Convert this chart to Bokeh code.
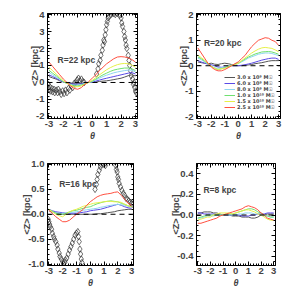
from bokeh.plotting import figure
from bokeh.layouts import column, row
from bokeh.models import (FixedTicker, PrintfTickFormatter, LinearAxis, Range1d,
                          Label, Legend, LegendItem, Span, CustomLabelingPolicy)
from bokeh.embed import file_html
from bokeh.resources import INLINE

THETA = [-3.0, -2.75, -2.5, -2.25, -2.0, -1.75, -1.5, -1.25, -1.0, -0.75, -0.5, -0.25,
         0.0, 0.25, 0.5, 0.75, 1.0, 1.25, 1.5, 1.75, 2.0, 2.25, 2.5, 2.75, 3.0]

MASS_LABELS = ["3.0 x 10⁹ M☉", "6.0 x 10⁹ M☉", "8.0 x 10⁹ M☉",
               "1.0 x 10¹⁰ M☉", "1.5 x 10¹⁰ M☉", "2.5 x 10¹⁰ M☉"]
COLORS = ["#555555", "#5a4ae6", "#8fd6f0", "#6fe06f", "#e6f04a", "#ff5040"]

# R = 22 kpc
R22_GRAY = [0.35, 0.27, 0.2, 0.1, 0.03, -0.03, -0.06, -0.08, -0.08, -0.06, -0.03, 0.0, 0.0, 0.03, 0.06, 0.08, 0.1, 0.13, 0.17, 0.21, 0.25, 0.32, 0.4, 0.45, 0.38]
R22_BLUE = [0.45, 0.35, 0.25, 0.13, 0.03, -0.03, -0.08, -0.1, -0.1, -0.08, -0.04, 0.0, 0.02, 0.08, 0.14, 0.2, 0.25, 0.3, 0.35, 0.4, 0.45, 0.5, 0.55, 0.58, 0.5]
R22_CYAN = [0.6, 0.45, 0.32, 0.18, 0.05, -0.05, -0.12, -0.15, -0.15, -0.12, -0.05, 0.0, 0.05, 0.15, 0.25, 0.35, 0.43, 0.5, 0.57, 0.62, 0.66, 0.7, 0.73, 0.72, 0.62]
R22_GREEN = [0.72, 0.55, 0.4, 0.22, 0.05, -0.05, -0.15, -0.2, -0.2, -0.15, -0.08, 0.0, 0.08, 0.2, 0.33, 0.45, 0.55, 0.65, 0.73, 0.78, 0.82, 0.85, 0.85, 0.8, 0.7]
R22_YELLOW = [0.9, 0.7, 0.5, 0.3, 0.1, -0.05, -0.15, -0.25, -0.25, -0.2, -0.1, 0.0, 0.12, 0.28, 0.45, 0.6, 0.75, 0.87, 0.97, 1.05, 1.1, 1.12, 1.1, 1.02, 0.9]
R22_RED = [1.2, 0.95, 0.7, 0.45, 0.2, 0.0, -0.2, -0.35, -0.4, -0.3, -0.1, 0.05, 0.25, 0.45, 0.7, 0.9, 1.1, 1.25, 1.4, 1.5, 1.52, 1.5, 1.45, 1.35, 1.2]
R22_OBS_X = [-3.05, -3.0, -2.95, -2.9, -2.8, -2.75, -2.65, -2.6, -2.5, -2.4, -2.35, -2.25, -2.15, -2.05, -1.95,
             -1.85, -1.75, -1.65, -1.55, -1.45, -1.35, -1.25, -1.15, -1.05, -0.95, -0.85, -0.75, -0.65, -0.55,
             0.3, 0.4, 0.45, 0.55, 0.6, 0.7, 0.75, 0.8, 0.85, 0.9, 0.95, 1.0, 1.05, 1.1, 1.2, 1.3, 1.45, 1.6,
             1.75, 1.9, 2.0, 2.05, 2.1, 2.2, 2.25, 2.3, 2.35, 2.4, 2.5, 2.55, 2.6, 2.65, 2.7, 2.8, 2.85, 2.9,
             2.95, 3.0, 3.05]
R22_OBS_Y = [-0.1, -0.4, -0.25, -0.5, -0.35, -0.55, -0.4, -0.6, -0.45, -0.6, -0.4, -0.55, -0.7, -0.5, -0.65,
             -0.45, -0.6, -0.35, -0.45, -0.2, -0.3, -0.05, 0.0, 0.15, 0.25, 0.1, 0.2, 0.05, 0.0,
             0.5, 0.8, 1.1, 1.3, 1.6, 1.9, 2.2, 2.5, 2.4, 2.8, 3.1, 3.4, 3.6, 3.8, 3.9, 4.0, 4.05, 4.0,
             4.05, 3.95, 3.8, 3.5, 3.3, 3.0, 2.7, 2.5, 2.2, 2.0, 1.6, 1.3, 1.0, 0.7, 0.4, 0.2, -0.1, 0.0,
             -0.3, -0.5, -0.6]

# R = 20 kpc
R20_GRAY = [0.15, 0.12, 0.1, 0.08, 0.1, 0.06, 0.05, 0.08, 0.1, 0.08, 0.05, 0.02, 0.0, 0.0, 0.02, 0.03, 0.05, 0.08, 0.1, 0.12, 0.15, 0.18, 0.2, 0.2, 0.2]
R20_BLUE = [0.2, 0.15, 0.1, 0.06, 0.04, 0.0, -0.05, -0.06, -0.05, -0.03, 0.0, 0.0, 0.0, 0.02, 0.04, 0.07, 0.1, 0.14, 0.18, 0.22, 0.25, 0.28, 0.3, 0.3, 0.25]
R20_CYAN = [0.3, 0.24, 0.15, 0.06, 0.0, -0.08, -0.1, -0.08, -0.05, -0.02, 0.02, 0.05, 0.08, 0.15, 0.22, 0.3, 0.35, 0.4, 0.45, 0.48, 0.5, 0.5, 0.48, 0.44, 0.4]
R20_GREEN = [0.35, 0.28, 0.18, 0.08, -0.02, -0.1, -0.15, -0.12, -0.08, -0.03, 0.02, 0.06, 0.1, 0.18, 0.26, 0.34, 0.4, 0.46, 0.5, 0.54, 0.55, 0.56, 0.54, 0.5, 0.45]
R20_YELLOW = [0.42, 0.32, 0.22, 0.1, -0.02, -0.1, -0.15, -0.12, -0.1, -0.05, 0.0, 0.05, 0.1, 0.2, 0.3, 0.4, 0.5, 0.58, 0.65, 0.7, 0.72, 0.7, 0.68, 0.62, 0.55]
R20_RED = [0.7, 0.5, 0.3, 0.1, -0.05, -0.15, -0.2, -0.2, -0.15, -0.08, 0.0, 0.08, 0.15, 0.28, 0.4, 0.58, 0.75, 0.88, 1.0, 1.05, 1.1, 1.08, 1.0, 0.95, 0.8]

# R = 16 kpc
R16_GRAY = [0.07, 0.05, 0.03, 0.01, 0.0, 0.0, 0.0, 0.0, 0.0, 0.0, 0.0, 0.0, 0.0, 0.0, 0.01, 0.01, 0.02, 0.03, 0.04, 0.05, 0.07, 0.08, 0.09, 0.1, 0.1]
R16_BLUE = [0.1, 0.07, 0.05, 0.04, 0.03, 0.02, 0.02, 0.02, 0.02, 0.03, 0.04, 0.05, 0.07, 0.08, 0.09, 0.1, 0.12, 0.14, 0.16, 0.18, 0.2, 0.18, 0.15, 0.13, 0.12]
R16_CYAN = [0.08, 0.05, 0.03, 0.02, 0.02, 0.02, 0.03, 0.04, 0.05, 0.06, 0.08, 0.09, 0.1, 0.11, 0.12, 0.14, 0.15, 0.17, 0.18, 0.19, 0.2, 0.19, 0.18, 0.16, 0.15]
R16_GREEN = [0.1, 0.06, 0.02, 0.0, 0.0, 0.02, 0.05, 0.07, 0.08, 0.1, 0.12, 0.14, 0.15, 0.18, 0.21, 0.23, 0.25, 0.26, 0.27, 0.26, 0.25, 0.22, 0.2, 0.17, 0.15]
R16_YELLOW = [0.1, 0.05, 0.0, -0.03, -0.05, 0.0, 0.05, 0.08, 0.1, 0.13, 0.16, 0.18, 0.2, 0.22, 0.23, 0.24, 0.25, 0.26, 0.26, 0.25, 0.25, 0.24, 0.2, 0.17, 0.15]
R16_RED = [0.08, 0.02, -0.05, -0.1, -0.15, -0.15, -0.12, -0.06, 0.0, 0.05, 0.1, 0.18, 0.25, 0.3, 0.35, 0.38, 0.4, 0.41, 0.42, 0.44, 0.45, 0.38, 0.3, 0.22, 0.18]
R16_OBS_X = [-3.05, -3.0, -2.95, -2.9, -2.8, -2.75, -2.65, -2.6, -2.5, -2.4, -2.35, -2.25, -2.2, -2.1, -2.0, -1.95,
             -1.85, -1.8, -1.7, -1.6, -1.5, -1.4, -1.3, -1.2, -1.1, -1.0, -0.9, -0.85, -0.8, -0.75, -0.7, -0.65, -0.6,
             0.35, 0.45, 0.5, 0.55, 0.65, 0.75, 0.8, 1.0, 1.1,
             1.85, 1.9, 1.95, 2.0, 2.05, 2.1, 2.2, 2.3, 2.4, 2.5, 2.6, 2.7, 2.8, 2.9, 3.0, 3.05]
R16_OBS_Y = [-0.1, -0.15, -0.2, -0.25, -0.3, -0.38, -0.45, -0.5, -0.55, -0.62, -0.7, -0.78, -0.85, -0.9, -0.95, -1.0,
             -0.97, -0.92, -0.88, -0.8, -0.72, -0.65, -0.58, -0.5, -0.42, -0.38, -0.35, -0.45, -0.55, -0.7, -0.8, -0.9, -0.97,
             0.5, 0.6, 0.7, 0.8, 0.88, 0.95, 1.0, 1.0, 0.98,
             0.98, 0.9, 0.85, 0.75, 0.7, 0.62, 0.55, 0.48, 0.42, 0.38, 0.32, 0.3, 0.27, 0.24, 0.22, 0.2]

# R = 8 kpc
R8_GRAY = [0.02, 0.02, 0.03, 0.03, 0.03, 0.02, 0.02, 0.01, 0.0, 0.0, 0.0, -0.01, -0.01, -0.01, -0.02, -0.02, -0.02, -0.03, -0.03, -0.02, 0.0, 0.0, 0.01, 0.01, 0.01]
R8_BLUE = [0.02, 0.02, 0.01, 0.01, 0.01, 0.01, 0.0, 0.0, 0.0, 0.0, 0.0, 0.0, 0.0, 0.0, -0.01, -0.01, -0.01, 0.0, 0.0, 0.01, 0.01, 0.01, 0.02, 0.02, 0.02]
R8_CYAN = [-0.03, -0.03, -0.02, -0.01, -0.01, -0.01, 0.0, 0.0, 0.0, 0.0, 0.0, 0.0, 0.0, 0.01, 0.01, 0.02, 0.02, 0.02, 0.01, 0.01, 0.0, -0.01, -0.01, -0.02, -0.02]
R8_GREEN = [-0.03, -0.02, -0.01, 0.0, 0.0, 0.0, 0.0, 0.0, 0.0, 0.01, 0.01, 0.01, 0.02, 0.03, 0.04, 0.05, 0.06, 0.06, 0.05, 0.03, 0.02, 0.0, -0.01, -0.02, -0.02]
R8_YELLOW = [-0.05, -0.04, -0.03, -0.02, -0.02, 0.0, 0.01, 0.02, 0.02, 0.02, 0.02, 0.01, 0.02, 0.03, 0.04, 0.05, 0.05, 0.04, 0.03, 0.01, 0.0, -0.02, -0.04, -0.05, -0.05]
R8_RED = [-0.08, -0.08, -0.07, -0.06, -0.05, -0.04, -0.03, -0.01, 0.0, 0.01, 0.02, 0.03, 0.04, 0.05, 0.06, 0.08, 0.09, 0.08, 0.07, 0.05, 0.02, 0.0, -0.03, -0.04, -0.05]

X_TICKS = [-3, -2, -1, 0, 1, 2, 3]
X_MINOR = [-3.0 + 0.2 * i for i in range(31)]

FONT = "Liberation Sans"

HIDE_LABELS = CustomLabelingPolicy(code="""
try { for (let i = 0; i < indices.size; i++) { indices.unset(i) } } catch (e) {}
return indices
""")


def make_panel(width, height, borders, yrange, yticks, yminor, yfmt, series, label, lab_pos,
               obs=None, legend=False):
    bl, br, bt, bb = borders
    p = figure(width=width, height=height, output_backend="svg", toolbar_location=None,
               x_range=Range1d(-3.1, 3.14), y_range=Range1d(*yrange),
               min_border_left=bl, min_border_right=br, min_border_top=bt, min_border_bottom=bb,
               x_axis_label="θ", y_axis_label="<Z> [kpc]")
    p.grid.visible = False
    p.outline_line_color = "black"
    p.outline_line_width = 1
    p.xaxis.ticker = FixedTicker(ticks=X_TICKS, minor_ticks=X_MINOR)
    p.yaxis.ticker = FixedTicker(ticks=yticks, minor_ticks=yminor)
    p.xaxis.formatter = PrintfTickFormatter(format="%d")
    p.yaxis.formatter = PrintfTickFormatter(format=yfmt)
    for ax in (p.xaxis[0], p.yaxis[0]):
        ax.major_tick_in = 4
        ax.major_tick_out = 0
        ax.minor_tick_in = 2
        ax.minor_tick_out = 0
        ax.axis_line_color = "black"
        ax.major_label_text_font = FONT
        ax.major_label_text_font_style = "bold"
        ax.major_label_text_font_size = "9.5px"
        ax.major_label_standoff = 3
        ax.axis_label_text_font = FONT
        ax.axis_label_text_font_style = "bold"
        ax.axis_label_text_font_size = "9px"
        ax.axis_label_standoff = 3
    p.yaxis.axis_label_standoff = -7
    p.xaxis.axis_label_text_font_style = "bold italic"
    p.xaxis.major_label_standoff = 2
    p.xaxis.axis_label_standoff = 1
    # ticks on top and right
    top = LinearAxis(ticker=FixedTicker(ticks=X_TICKS, minor_ticks=X_MINOR),
                     major_label_policy=HIDE_LABELS, major_label_standoff=0,
                     major_label_text_font_size="6px",
                     major_tick_in=4, major_tick_out=0, minor_tick_in=2, minor_tick_out=0)
    right = LinearAxis(ticker=FixedTicker(ticks=yticks, minor_ticks=yminor),
                       major_label_policy=HIDE_LABELS, major_label_standoff=0,
                       major_label_text_font_size="6px",
                       major_tick_in=4, major_tick_out=0, minor_tick_in=2, minor_tick_out=0)
    p.add_layout(top, "above")
    p.add_layout(right, "right")

    p.add_layout(Span(location=0, dimension="width", line_color="black",
                      line_width=1, line_dash="5 4"))
    if obs is not None:
        p.scatter(obs[0], obs[1], marker="diamond", size=6.5, fill_color=None,
                  line_color="#333333", line_width=0.7)
    rends = []
    for ys, c in zip(series, COLORS):
        r = p.line(THETA, ys, line_color=c, line_width=1)
        rends.append(r)
    p.add_layout(Label(x=lab_pos[0], y=lab_pos[1], text=label, text_font=FONT,
                       text_font_style="bold", text_font_size="8.5px",
                       text_baseline="middle", text_align="left"))
    if legend:
        items = [LegendItem(label=l, renderers=[r]) for l, r in zip(MASS_LABELS, rends)]
        lg = Legend(items=items, location=(28, 8), padding=0, spacing=0, margin=0,
                    label_height=4, glyph_height=4, glyph_width=11, label_standoff=2,
                    label_text_font="DejaVu Sans", label_text_font_style="bold",
                    label_text_font_size="5px", border_line_alpha=0,
                    background_fill_alpha=0)
        p.add_layout(lg, "center")
    return p


p1 = make_panel(148, 148, (47, 11, 13, 29), (-2.12, 4.06), [-2, -1, 0, 1, 2, 3, 4],
                [-2.0 + 0.2 * i for i in range(31)], "%d",
                [R22_GRAY, R22_BLUE, R22_CYAN, R22_GREEN, R22_YELLOW, R22_RED],
                "R=22 kpc", (-2.4, 1.3), obs=(R22_OBS_X, R22_OBS_Y))
p2 = make_panel(142, 148, (48, 5, 13, 30), (-2.07, 2.05), [-2, -1, 0, 1, 2],
                [-2.0 + 0.2 * i for i in range(21)], "%d",
                [R20_GRAY, R20_BLUE, R20_CYAN, R20_GREEN, R20_YELLOW, R20_RED],
                "R=20 kpc", (-2.55, 0.9), legend=True)
p3 = make_panel(148, 142, (47, 11, 15, 22), (-1.03, 1.02), [-1.0, -0.5, 0.0, 0.5, 1.0],
                [-1.0 + 0.1 * i for i in range(21)], "%.1f",
                [R16_GRAY, R16_BLUE, R16_CYAN, R16_GREEN, R16_YELLOW, R16_RED],
                "R=16 kpc", (-2.25, 0.6), obs=(R16_OBS_X, R16_OBS_Y))
p4 = make_panel(142, 142, (48, 5, 15, 22), (-0.49, 0.5), [-0.4, -0.2, 0.0, 0.2, 0.4],
                [-0.45 + 0.05 * i for i in range(19)], "%.1f",
                [R8_GRAY, R8_BLUE, R8_CYAN, R8_GREEN, R8_YELLOW, R8_RED],
                "R=8 kpc", (-2.55, 0.24))

layout = column(row(p1, p2, spacing=0), row(p3, p4, spacing=0), spacing=0)
open("out.html", "w").write(file_html(layout, INLINE))
